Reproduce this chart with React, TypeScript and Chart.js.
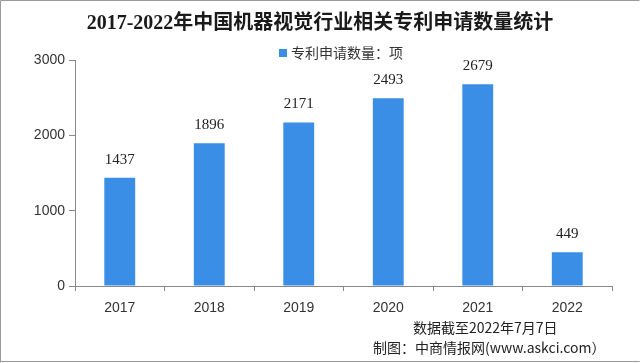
import React, { useEffect, useRef } from "react";
import { Chart, registerables } from "chart.js";

Chart.register(...registerables);

const categories = ["2017", "2018", "2019", "2020", "2021", "2022"];
const patentCounts = [1437, 1896, 2171, 2493, 2679, 449];
const seriesLabel = "专利申请数量：项";
const titleText = "2017-2022年中国机器视觉行业相关专利申请数量统计";
const noteText = "数据截至2022年7月7日";
const sourceText = "制图：中商情报网(www.askci.com）";
const yTicks = [0, 1000, 2000, 3000];

const BAR_COLOR = "#3a8ee6";

export default function App() {
  const ref = useRef<HTMLCanvasElement | null>(null);

  useEffect(() => {
    document.body.style.margin = "0";
    const canvas = ref.current;
    if (!canvas) return;

    const decor = {
      id: "decor",
      beforeDraw(chart: any) {
        const ctx = chart.ctx;
        ctx.save();
        ctx.fillStyle = "#ffffff";
        ctx.fillRect(0, 0, chart.width, chart.height);
        ctx.restore();
      },
      afterDatasetsDraw(chart: any) {
        const ctx = chart.ctx;
        const meta = chart.getDatasetMeta(0);
        ctx.save();
        ctx.font = '15px "Liberation Serif", "Noto Sans CJK SC", serif';
        ctx.fillStyle = "#222";
        ctx.textAlign = "center";
        ctx.textBaseline = "middle";
        meta.data.forEach((el: any, i: number) => {
          ctx.fillText(String(patentCounts[i]), el.x, el.y - 18);
        });
        ctx.restore();
      },
      afterDraw(chart: any) {
        const ctx = chart.ctx;
        ctx.save();
        // title
        ctx.font = 'bold 20px "Liberation Serif", "Noto Sans CJK SC", serif';
        ctx.fillStyle = "#1a1a1a";
        ctx.textAlign = "center";
        ctx.textBaseline = "middle";
        ctx.fillText(titleText, 320, 24);
        // legend
        ctx.fillStyle = BAR_COLOR;
        ctx.fillRect(279, 49, 8, 8);
        ctx.font = '14px "Noto Sans CJK SC", sans-serif';
        ctx.fillStyle = "#333";
        ctx.textAlign = "left";
        ctx.fillText(seriesLabel, 291, 53);
        // footer
        ctx.fillStyle = "#222";
        ctx.font = '14px "Noto Sans CJK SC", sans-serif';
        ctx.fillText(noteText, 413, 328);
        ctx.fillText(sourceText, 373, 348);
        // border
        ctx.strokeStyle = "#9a9a9a";
        ctx.lineWidth = 1;
        ctx.beginPath();
        ctx.moveTo(0.5, 362.5);
        ctx.lineTo(0.5, 0.5);
        ctx.lineTo(639.5, 0.5);
        ctx.moveTo(0.5, 361.5);
        ctx.lineTo(639.5, 361.5);
        ctx.stroke();
        ctx.restore();
      },
    };

    const chart = new Chart(canvas, {
      type: "bar",
      data: {
        labels: categories,
        datasets: [
          {
            label: seriesLabel,
            data: patentCounts,
            backgroundColor: BAR_COLOR,
            borderWidth: 0,
            categoryPercentage: 1,
            barPercentage: 0.345,
          },
        ],
      },
      options: {
        responsive: false,
        animation: false,
        devicePixelRatio: 1,
        layout: { padding: { top: 60, right: 28, bottom: 0, left: 0 } },
        plugins: {
          legend: { display: false },
          title: { display: false },
          tooltip: { enabled: false },
        },
        scales: {
          x: {
            grid: {
              offset: true,
              drawOnChartArea: false,
              drawTicks: true,
              tickLength: 5,
              color: "#888",
            },
            border: { display: true, color: "#888" },
            ticks: {
              color: "#333",
              font: { family: '"Liberation Sans", sans-serif', size: 14 },
              padding: 9,
            },
            afterFit: (s: any) => {
              s.height = 77;
            },
          },
          y: {
            min: 0,
            max: 3000,
            afterBuildTicks: (s: any) => {
              s.ticks = yTicks.map((v) => ({ value: v }));
            },
            grid: {
              drawOnChartArea: false,
              drawTicks: true,
              tickLength: 6,
              color: "#888",
            },
            border: { display: true, color: "#888" },
            ticks: {
              color: "#333",
              font: { family: '"Liberation Sans", sans-serif', size: 14 },
              padding: 4,
              callback: (v: any) => String(v),
            },
            afterFit: (s: any) => {
              s.width = 75;
            },
          },
        },
      },
      plugins: [decor],
    });

    return () => chart.destroy();
  }, []);

  return (
    <div style={{ width: 640, height: 363 }}>
      <canvas ref={ref} width={640} height={363} style={{ display: "block" }} />
    </div>
  );
}
